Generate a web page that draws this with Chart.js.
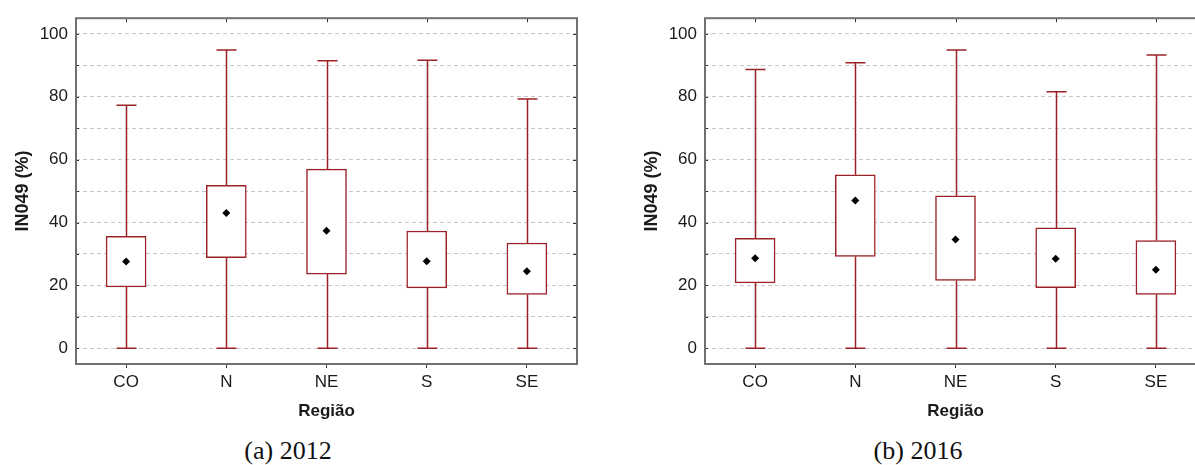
<!DOCTYPE html>
<html>
<head>
<meta charset="utf-8">
<script src="https://cdn.jsdelivr.net/npm/chart.js@4.4.0/dist/chart.umd.min.js"></script>
<style>
  body { margin: 0; background: #fff; overflow: hidden; width: 1195px; height: 465px; position: relative; }
  .box { position: absolute; top: 0; width: 600px; height: 430px; }
  .caption { position: absolute; top: 436px; line-height: 30px; font-family: "Liberation Serif", "Times New Roman", serif; font-size: 26px; color: #111; transform: translateX(-50%); white-space: nowrap; }
</style>
</head>
<body>
<div class="box" style="left:0px"><canvas id="chart2012" width="600" height="430"></canvas></div>
<div class="box" style="left:629px"><canvas id="chart2016" width="600" height="430"></canvas></div>
<div class="caption" style="left:288px">(a) 2012</div>
<div class="caption" style="left:918px">(b) 2016</div>

<script>
const regioes = ['CO', 'N', 'NE', 'S', 'SE'];

// 2012
const min2012  = [0, 0, 0, 0, 0];
const q1_2012  = [19.5, 28.8, 23.6, 19.2, 17.1];
const q3_2012  = [35.6, 51.8, 57.0, 37.3, 33.5];
const max2012  = [77.3, 94.9, 91.5, 91.6, 79.3];
const mean2012 = [27.6, 43.0, 37.4, 27.7, 24.5];

// 2016
const min2016  = [0, 0, 0, 0, 0];
const q1_2016  = [20.8, 29.2, 21.6, 19.3, 17.1];
const q3_2016  = [35.0, 55.2, 48.5, 38.3, 34.3];
const max2016  = [88.7, 90.8, 94.9, 81.6, 93.3];
const mean2016 = [28.6, 47.0, 34.6, 28.5, 25.0];

const yTicks = [0, 10, 20, 30, 40, 50, 60, 70, 80, 90, 100];

const RED = '#9b2226';
const FONT = '"Liberation Sans", Arial, sans-serif';

// frame, inner ticks and whiskers
const boxPlotExtras = {
    id: 'boxPlotExtras',
    beforeDatasetsDraw(chart) {
        const ctx = chart.ctx;
        const area = chart.chartArea;
        const x = chart.scales.x;
        const y = chart.scales.y;

        ctx.save();
        ctx.strokeStyle = '#333';
        ctx.lineWidth = 1;
        yTicks.forEach(v => {
            const py = Math.round(y.getPixelForValue(v)) + 0.5;
            ctx.beginPath();
            ctx.moveTo(area.right - 4, py);
            ctx.lineTo(area.right, py);
            ctx.moveTo(area.left, py);
            ctx.lineTo(area.left + 3, py);
            ctx.stroke();
        });
        regioes.forEach((r, i) => {
            const px = Math.round(x.getPixelForValue(i)) + 0.5;
            ctx.beginPath();
            ctx.moveTo(px, area.top);
            ctx.lineTo(px, area.top + 4);
            ctx.stroke();
        });

        ctx.strokeStyle = '#707070';
        ctx.lineWidth = 2;
        ctx.strokeRect(area.left, area.top, area.right - area.left, area.bottom - area.top);

        const ds = chart.data.datasets[0];
        ctx.strokeStyle = RED;
        ctx.lineWidth = 1.5;
        ds.data.forEach((d, i) => {
            const px = Math.round(x.getPixelForValue(i)) + 0.5;
            const yMin = y.getPixelForValue(ds.whiskerMin[i]);
            const yMax = y.getPixelForValue(ds.whiskerMax[i]);
            const yQ1 = y.getPixelForValue(d[0]);
            const yQ3 = y.getPixelForValue(d[1]);
            ctx.beginPath();
            ctx.moveTo(px, yMin);
            ctx.lineTo(px, yQ1);
            ctx.moveTo(px, yQ3);
            ctx.lineTo(px, yMax);
            ctx.moveTo(px - 10, yMin);
            ctx.lineTo(px + 10, yMin);
            ctx.moveTo(px - 10, yMax);
            ctx.lineTo(px + 10, yMax);
            ctx.stroke();
        });
        ctx.restore();
    }
};

function makeChart(id, q1, q3, mins, maxs, means) {
    const ctx = document.getElementById(id).getContext('2d');
    return new Chart(ctx, {
        type: 'bar',
        data: {
            labels: regioes,
            datasets: [
                {
                    type: 'bar',
                    data: q1.map((v, i) => [v, q3[i]]),
                    whiskerMin: mins,
                    whiskerMax: maxs,
                    backgroundColor: '#ffffff',
                    borderColor: RED,
                    borderWidth: 1.5,
                    borderSkipped: false,
                    barThickness: 40,
                    order: 2,
                },
                {
                    type: 'line',
                    data: means,
                    showLine: false,
                    pointStyle: 'rectRot',
                    pointRadius: 4,
                    pointBackgroundColor: '#000',
                    pointBorderColor: '#000',
                    pointBorderWidth: 0,
                    order: 1,
                },
            ],
        },
        options: {
            responsive: false,
            animation: false,
            layout: { padding: { top: 14, right: 23, left: 0, bottom: 0 } },
            plugins: {
                legend: { display: false },
                tooltip: { enabled: false },
            },
            scales: {
                x: {
                    afterFit: s => { s.height = 66; },
                    grid: { display: true, offset: false, drawOnChartArea: false, drawTicks: true, tickLength: 4, color: '#333' },
                    border: { display: false },
                    ticks: { font: { family: FONT, size: 17 }, color: '#1a1a1a', padding: 4 },
                    title: {
                        display: true,
                        text: 'Região',
                        font: { family: FONT, size: 17, weight: 'bold' },
                        color: '#1a1a1a',
                        padding: { top: 0, bottom: 8 },
                    },
                },
                y: {
                    min: -5,
                    max: 105,
                    afterFit: s => { s.width = 76; },
                    afterBuildTicks: s => { s.ticks = yTicks.map(v => ({ value: v })); },
                    grid: { color: '#c8c8c8', drawTicks: false, lineWidth: 1 },
                    border: { display: false, dash: [4, 3] },
                    ticks: {
                        font: { family: FONT, size: 17 },
                        color: '#1a1a1a',
                        padding: 8,
                        autoSkip: false,
                        callback: v => (v % 20 === 0 ? String(v) : ''),
                    },
                    title: {
                        display: true,
                        text: 'IN049 (%)',
                        font: { family: FONT, size: 18, weight: 'bold' },
                        color: '#1a1a1a',
                        padding: { top: 12, bottom: 0 },
                    },
                },
            },
        },
        plugins: [boxPlotExtras],
    });
}

makeChart('chart2012', q1_2012, q3_2012, min2012, max2012, mean2012);
makeChart('chart2016', q1_2016, q3_2016, min2016, max2016, mean2016);
</script>
</body>
</html>
